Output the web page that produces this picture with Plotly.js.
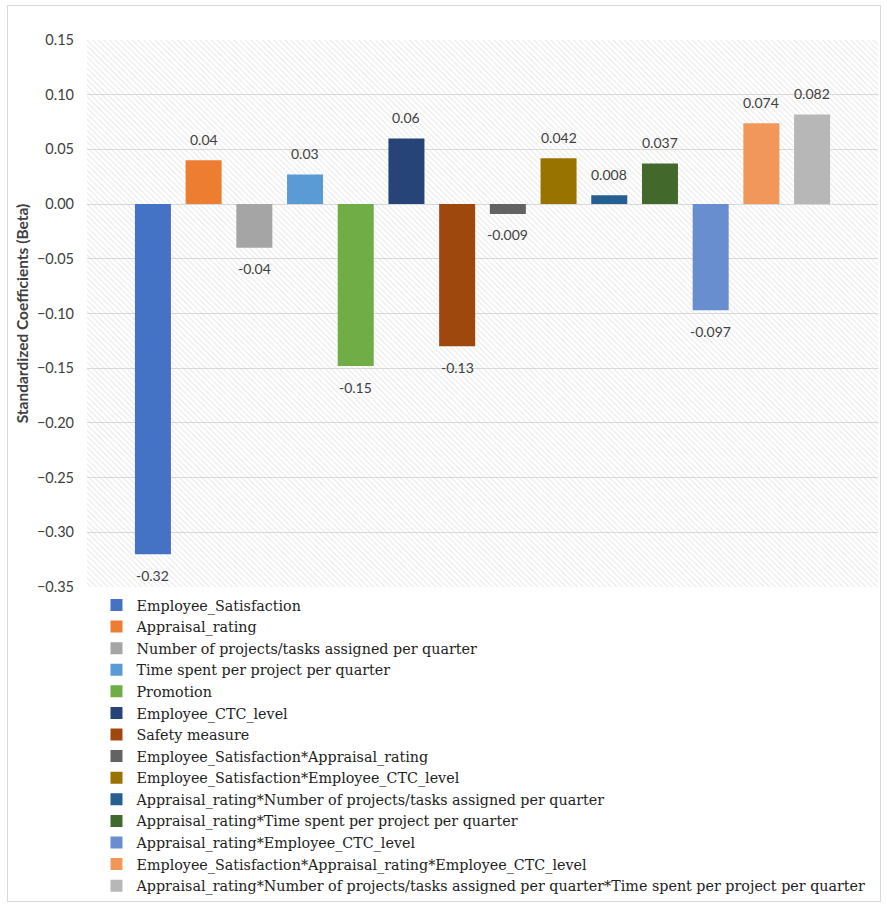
<!DOCTYPE html>
<html>
<head>
<meta charset="utf-8">
<script src="https://cdn.plot.ly/plotly-3.0.1.min.js"></script>
<style>
  html, body { margin: 0; padding: 0; background: #fff; }
  #chart { width: 887px; height: 907px; }
  #frame { position: absolute; left: 7px; top: 5px; width: 872px; height: 895px; border: 1px solid #d9d9d9; pointer-events: none; }
</style>
</head>
<body>
<div id="chart"></div>
<div id="frame"></div>
<script>
const seriesNames = [
  "Employee_Satisfaction",
  "Appraisal_rating",
  "Number of projects/tasks assigned per quarter",
  "Time spent per project per quarter",
  "Promotion",
  "Employee_CTC_level",
  "Safety measure",
  "Employee_Satisfaction*Appraisal_rating",
  "Employee_Satisfaction*Employee_CTC_level",
  "Appraisal_rating*Number of projects/tasks assigned per quarter",
  "Appraisal_rating*Time spent per project per quarter",
  "Appraisal_rating*Employee_CTC_level",
  "Employee_Satisfaction*Appraisal_rating*Employee_CTC_level",
  "Appraisal_rating*Number of projects/tasks assigned per quarter*Time spent per project per quarter"
];
const betaValues = [-0.32, 0.04, -0.04, 0.027, -0.148, 0.06, -0.13, -0.009, 0.042, 0.008, 0.037, -0.097, 0.074, 0.082];
const betaLabels = ["-0.32", "0.04", "-0.04", "0.03", "-0.15", "0.06", "-0.13", "-0.009", "0.042", "0.008", "0.037", "-0.097", "0.074", "0.082"];
const seriesColors = ["#4472C4", "#ED7D31", "#A5A5A5", "#5B9BD5", "#70AD47", "#264478", "#9E480E", "#636363", "#997300", "#255E91", "#43682B", "#698ED0", "#F1975A", "#B7B7B7"];
const yRange = [-0.35, 0.15];

const labelFont = "Lato, 'Liberation Sans', sans-serif";
const legendFont = "'DejaVu Serif', 'Liberation Serif', serif";

const traces = [];
// hatched plot-area background
traces.push({
  type: "bar",
  x: [0],
  y: [yRange[1] - yRange[0]],
  base: [yRange[0]],
  width: [1],
  xaxis: "x",
  yaxis: "y",
  marker: {
    color: "rgba(0,0,0,0)",
    line: { width: 0 },
    pattern: { shape: "\\", fgcolor: "#cfcfcf", size: 4, solidity: 0.25, fillmode: "overlay" }
  },
  showlegend: false,
  hoverinfo: "skip"
});

const annotations = [];
seriesNames.forEach((name, i) => {
  traces.push({
    type: "bar",
    name: name,
    x: [name],
    y: [betaValues[i]],
    marker: { color: seriesColors[i], line: { width: 0 } },
    xaxis: "x2",
    yaxis: "y"
  });
  const pos = betaValues[i] >= 0;
  annotations.push({
    xref: "x2", yref: "y",
    x: name, y: betaValues[i],
    text: betaLabels[i],
    showarrow: false,
    yanchor: "middle",
    yshift: pos ? 21 : -21,
    font: { family: labelFont, size: 14, color: "#404040" }
  });
});

const layout = {
  width: 887,
  height: 907,
  paper_bgcolor: "#ffffff",
  plot_bgcolor: "#ffffff",
  margin: { l: 87, r: 9, t: 40, b: 320, autoexpand: false },
  barmode: "relative",
  bargap: 0.29,
  showlegend: true,
  annotations: annotations,
  legend: {
    x: 0.012,
    y: -0.004,
    xanchor: "left",
    yanchor: "top",
    orientation: "v",
    font: { family: legendFont, size: 14.3, color: "#222" },
    itemwidth: 30,
    bgcolor: "rgba(0,0,0,0)",
    tracegroupgap: 0
  },
  xaxis: {
    range: [-0.5, 0.5],
    showgrid: false,
    zeroline: false,
    showticklabels: false,
    ticks: "",
    fixedrange: true
  },
  xaxis2: {
    overlaying: "x",
    type: "category",
    range: [-1.3, 14.3],
    showgrid: false,
    zeroline: false,
    showticklabels: false,
    ticks: ""
  },
  yaxis: {
    range: yRange,
    dtick: 0.05,
    tick0: 0,
    tickformat: ".2f",
    gridcolor: "#d9d9d9",
    gridwidth: 1,
    zeroline: true,
    zerolinecolor: "#d9d9d9",
    zerolinewidth: 1,
    showline: false,
    ticks: "",
    ticklabelstandoff: 12,
    tickfont: { family: labelFont, size: 14.5, color: "#404040" },
    title: {
      text: "<b>Standardized Coefficients (Beta)</b>",
      font: { family: labelFont, size: 15.5, color: "#404040" },
      standoff: 4
    }
  }
};

Plotly.newPlot("chart", traces, layout, { displayModeBar: false, staticPlot: true });
</script>
</body>
</html>
